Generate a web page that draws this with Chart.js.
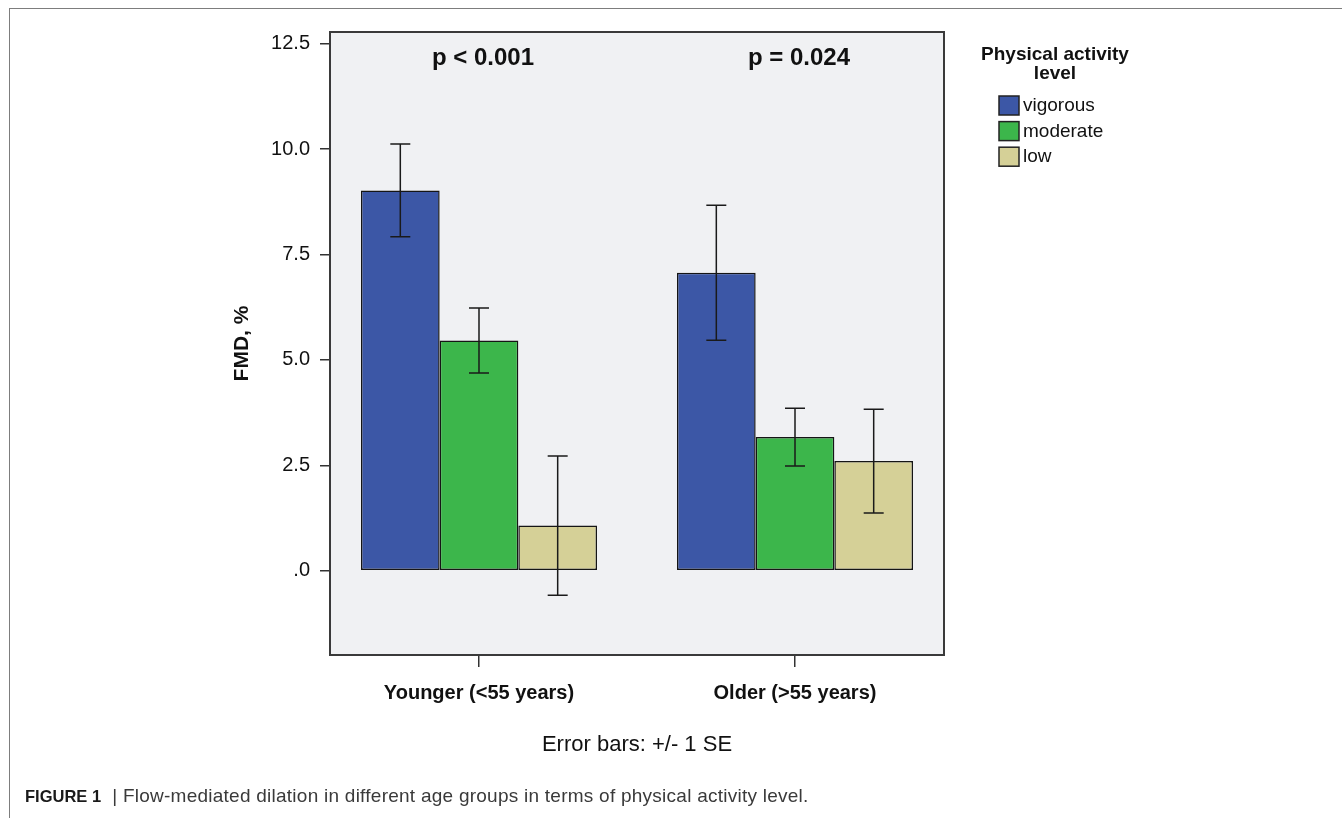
<!DOCTYPE html>
<html>
<head>
<meta charset="utf-8">
<script src="https://cdn.jsdelivr.net/npm/chart.js@4"></script>
<style>
  html, body { margin: 0; padding: 0; background: #ffffff; }
  #wrap { position: relative; width: 1342px; height: 818px; overflow: hidden; }
  #c { position: absolute; left: 0; top: 0; }
  #frame { position: absolute; left: 9px; top: 8px; right: -5px; bottom: -5px;
           border-left: 1.5px solid #7d7d7d; border-top: 1.5px solid #7d7d7d; }
  #caption { position: absolute; left: 25px; top: 785px; white-space: nowrap; letter-spacing: 0.25px;
             font-family: "Liberation Sans", Arial, sans-serif; font-size: 19px; color: #3a3a3a; }
  #caption b { font-size: 16.5px; letter-spacing: 0; color: #1a1a1a; }
</style>
</head>
<body>
<div id="wrap">
  <canvas id="c" width="1342" height="818"></canvas>
  <div id="frame"></div>
  <div id="caption"><b>FIGURE 1</b> &nbsp;|&nbsp;Flow-mediated dilation in different age groups in terms of physical activity level.</div>
</div>
<script>
// ---------------- DATA ----------------
const categories = ['Younger (<55 years)', 'Older (>55 years)'];
const seriesNames = ['vigorous', 'moderate', 'low'];
const vigorous = [9.02, 7.07];
const moderate = [5.46, 3.17];
const low = [1.07, 2.60];
const vigorousSE = [1.10, 1.60];
const moderateSE = [0.77, 0.685];
const lowSE = [1.65, 1.23];
const pValues = ['p < 0.001', 'p = 0.024'];
const yTicks = [0, 2.5, 5, 7.5, 10, 12.5];
const yTickLabels = ['.0', '2.5', '5.0', '7.5', '10.0', '12.5'];
const legendTitle = ['Physical activity', 'level'];
const yAxisTitle = 'FMD, %';
const xAxisTitle = 'Error bars: +/- 1 SE';
// --------------------------------------

const seriesValues = [vigorous, moderate, low];
const seriesSE = [vigorousSE, moderateSE, lowSE];
const seriesColors = ['#3c57a6', '#3cb64b', '#d5d097'];

const datasets = seriesNames.map((name, k) => ({
  label: name,
  data: seriesValues[k].map((v, i) => ({ x: i, y: v })),
  se: seriesSE[k],
  backgroundColor: seriesColors[k],
  borderColor: '#151515',
  borderWidth: 1.5,
  borderSkipped: false,
  categoryPercentage: 0.747,
  barPercentage: 1.0
}));

const plotBg = {
  id: 'plotBg',
  beforeDraw(chart) {
    const { ctx, chartArea: a } = chart;
    ctx.save();
    ctx.fillStyle = '#f0f1f3';
    ctx.fillRect(a.left, a.top, a.right - a.left, a.bottom - a.top);
    ctx.restore();
  },
  afterDatasetsDraw(chart) {
    const { ctx, chartArea: a } = chart;
    ctx.save();
    ctx.strokeStyle = '#3a3a3a';
    ctx.lineWidth = 2;
    ctx.strokeRect(a.left, a.top, a.right - a.left, a.bottom - a.top);
    ctx.restore();
  }
};

const errorBars = {
  id: 'errorBars',
  afterDatasetsDraw(chart) {
    const ctx = chart.ctx, ys = chart.scales.y;
    ctx.save();
    ctx.strokeStyle = '#1a1a1a';
    ctx.lineWidth = 1.5;
    chart.data.datasets.forEach((ds, di) => {
      const meta = chart.getDatasetMeta(di);
      meta.data.forEach((bar, i) => {
        const m = ds.data[i].y, se = ds.se[i];
        const yt = ys.getPixelForValue(m + se), yb = ys.getPixelForValue(m - se);
        const x = bar.x, hw = 10;
        ctx.beginPath();
        ctx.moveTo(x, yt); ctx.lineTo(x, yb);
        ctx.moveTo(x - hw, yt); ctx.lineTo(x + hw, yt);
        ctx.moveTo(x - hw, yb); ctx.lineTo(x + hw, yb);
        ctx.stroke();
      });
    });
    ctx.restore();
  }
};

const annotations = {
  id: 'annotations',
  afterDraw(chart) {
    const ctx = chart.ctx, xs = chart.scales.x;
    ctx.save();
    ctx.fillStyle = '#111';
    ctx.font = 'bold 24px "Liberation Sans", Arial, sans-serif';
    ctx.textAlign = 'center';
    ctx.textBaseline = 'middle';
    pValues.forEach((p, i) => {
      ctx.fillText(p, xs.getPixelForValue(i) + 4, 58);
    });
    ctx.font = 'bold 19px "Liberation Sans", Arial, sans-serif';
    ctx.fillText(legendTitle[0], 1055, 55);
    ctx.fillText(legendTitle[1], 1055, 74);
    ctx.textAlign = 'left';
    ctx.font = '19px "Liberation Sans", Arial, sans-serif';
    chart.data.datasets.forEach((ds, k) => {
      const top = 96 + k * 25.6;
      ctx.fillStyle = ds.backgroundColor;
      ctx.fillRect(999, top, 20, 19);
      ctx.strokeStyle = '#222';
      ctx.lineWidth = 1.5;
      ctx.strokeRect(999, top, 20, 19);
      ctx.fillStyle = '#111';
      ctx.fillText(ds.label, 1023, top + 10);
    });
    ctx.restore();
  }
};

new Chart(document.getElementById('c'), {
  type: 'bar',
  data: { datasets },
  plugins: [plotBg, errorBars, annotations],
  options: {
    responsive: false,
    animation: false,
    devicePixelRatio: 1,
    layout: { padding: { left: 0, right: 398, top: 32, bottom: 60 } },
    plugins: { legend: { display: false }, tooltip: { enabled: false } },
    scales: {
      x: {
        type: 'linear',
        bounds: 'data',
        offset: false,
        min: -0.4715,
        max: 1.4715,
        afterBuildTicks: (s) => { s.ticks = categories.map((c, i) => ({ value: i })); },
        afterFit: (s) => { s.height = 103; },
        grid: { display: true, offset: false, drawOnChartArea: false, drawTicks: true, tickLength: 12, color: '#333', lineWidth: 1.5 },
        border: { display: true, color: '#3a3a3a', width: 2 },
        ticks: {
          callback: (v) => categories[v],
          autoSkip: false, maxRotation: 0,
          padding: 14,
          color: '#111',
          font: { family: '"Liberation Sans", Arial, sans-serif', size: 20, weight: 'bold' }
        },
        title: {
          display: true, text: xAxisTitle, color: '#111',
          padding: { top: 0, bottom: 0 },
          font: { family: '"Liberation Sans", Arial, sans-serif', size: 22 }
        }
      },
      y: {
        type: 'linear',
        bounds: 'data',
        min: -2.0,
        max: 12.78,
        afterBuildTicks: (s) => { s.ticks = yTicks.map(v => ({ value: v })); },
        afterFit: (s) => { s.width = 330; },
        grid: { display: true, drawOnChartArea: false, drawTicks: true, tickLength: 10, color: '#333', lineWidth: 1.5 },
        border: { display: true, color: '#3a3a3a', width: 2 },
        ticks: {
          callback: (v) => yTickLabels[yTicks.indexOf(v)],
          padding: 10,
          color: '#111',
          font: { family: '"Liberation Sans", Arial, sans-serif', size: 20 }
        },
        title: {
          display: true, text: yAxisTitle, color: '#111',
          padding: { top: 230, bottom: 0 },
          font: { family: '"Liberation Sans", Arial, sans-serif', size: 21, weight: 'bold' }
        }
      }
    }
  }
});
</script>
</body>
</html>
